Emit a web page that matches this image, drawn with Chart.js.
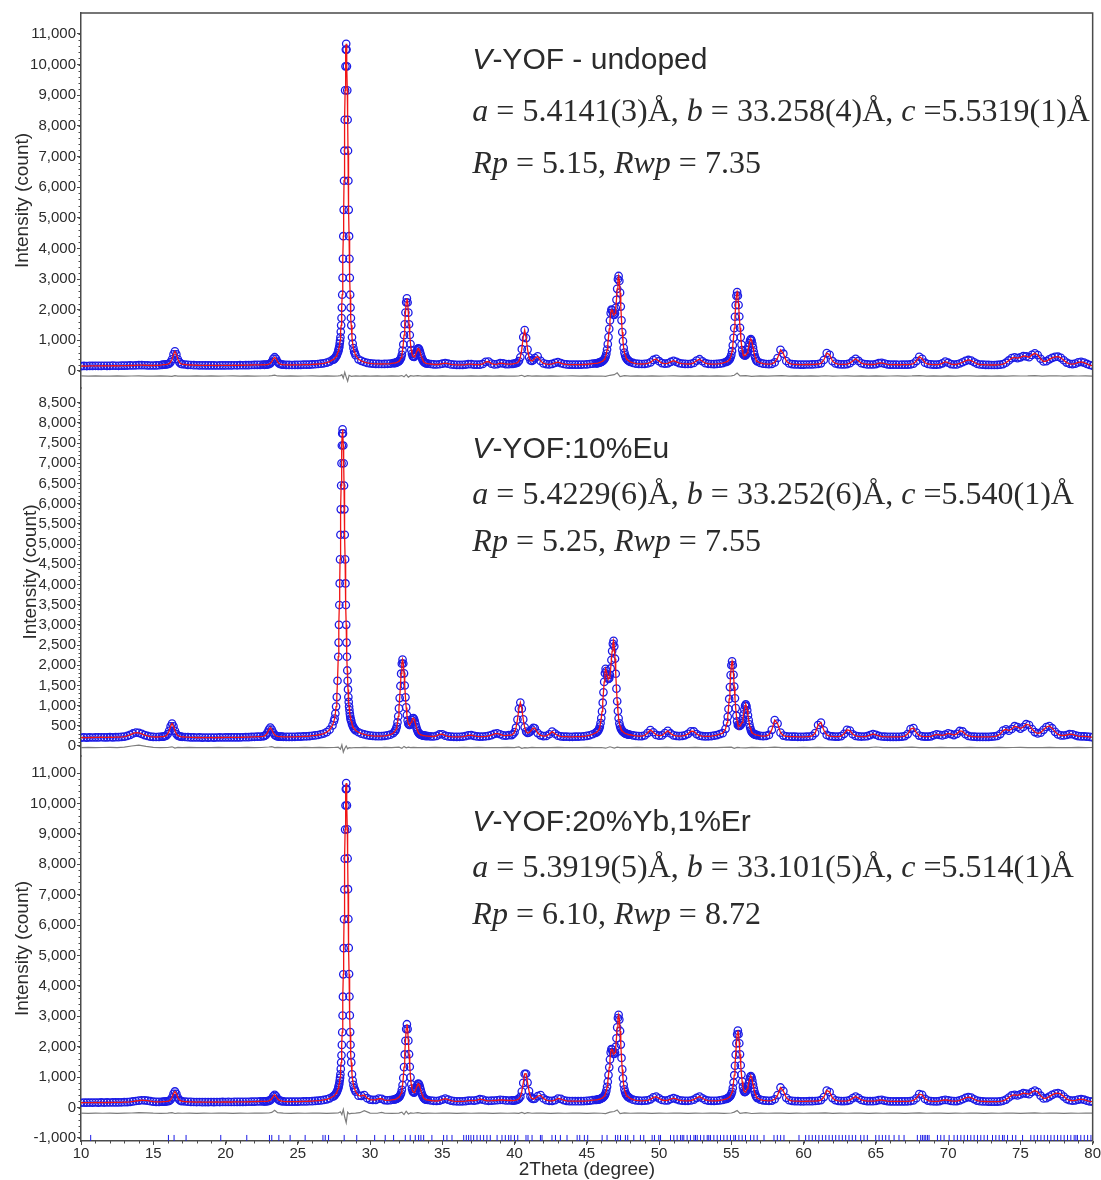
<!DOCTYPE html>
<html>
<head>
<meta charset="utf-8">
<title>V-YOF Rietveld refinement</title>
<script src="https://cdn.jsdelivr.net/npm/chart.js@4.4.1/dist/chart.umd.min.js"></script>
<style>
  html, body { margin: 0; padding: 0; background: #fff; }
  #xrd { display: block; }
</style>
</head>
<body>
<canvas id="xrd" width="1101" height="1180"></canvas>
<script>
/* Rietveld fits of three V-YOF powders: observed points, calculated profile,
   difference curve (shifted below zero) and Bragg positions.
   All intensities. */

// 2Theta grid shared by the three observed patterns (denser on the strong peaks)
const twoTheta = [
  10.0, 10.2, 10.4, 10.6, 10.8, 11.0, 11.2, 11.4, 11.6, 11.8, 12.0, 12.2, 12.4, 12.6, 12.8, 13.0, 13.2, 13.4, 13.6, 13.8, 14.0, 14.2, 14.4, 14.6, 14.8, 15.0, 15.2, 15.4, 15.6,
  15.7, 15.8, 15.9, 16.0, 16.1, 16.2, 16.3, 16.4, 16.5, 16.6, 16.7, 16.8, 16.9, 17.0,
  17.2, 17.4, 17.6, 17.8, 18.0, 18.2, 18.4, 18.6, 18.8, 19.0, 19.2, 19.4, 19.6, 19.8, 20.0, 20.2, 20.4, 20.6, 20.8, 21.0, 21.2, 21.4, 21.6, 21.8, 22.0, 22.2, 22.4, 22.6,
  22.7, 22.8, 22.9, 23.0, 23.1, 23.2, 23.3, 23.4, 23.5, 23.6, 23.7, 23.8, 23.9,
  24.0, 24.2, 24.4, 24.6, 24.8, 25.0, 25.2, 25.4, 25.6, 25.8, 26.0, 26.2, 26.4, 26.6, 26.8, 27.0, 27.2, 27.4,
  27.5, 27.55, 27.6, 27.65, 27.7, 27.75,
  27.8, 27.825, 27.85, 27.875, 27.9, 27.925, 27.95, 27.975, 28.0, 28.025,
  28.05, 28.075, 28.1, 28.125, 28.15, 28.175, 28.2, 28.225, 28.25, 28.275,
  28.3, 28.325, 28.35, 28.375, 28.4, 28.425, 28.45, 28.475, 28.5, 28.525,
  28.55, 28.575, 28.6, 28.625, 28.65, 28.675, 28.7,
  28.75, 28.8, 28.85, 28.9, 28.95, 29.0,
  29.2, 29.4, 29.6, 29.8, 30.0, 30.2, 30.4, 30.6, 30.8, 31.0, 31.2, 31.4, 31.6,
  31.7, 31.75, 31.8, 31.85, 31.9, 31.95, 32.0, 32.05, 32.1, 32.15,
  32.2, 32.25, 32.3, 32.35, 32.4, 32.45, 32.5, 32.55, 32.6, 32.65,
  32.7, 32.75, 32.8, 32.85, 32.9, 32.95, 33.0, 33.05, 33.1, 33.15,
  33.2, 33.25, 33.3, 33.35, 33.4, 33.45, 33.5, 33.55, 33.6, 33.65,
  33.7, 33.75, 33.8, 33.85, 33.9,
  34.0, 34.2, 34.4, 34.6, 34.8, 35.0, 35.2, 35.4, 35.6, 35.8, 36.0, 36.2, 36.4, 36.6, 36.8,
  37.0, 37.2, 37.4, 37.6, 37.8, 38.0, 38.2, 38.4, 38.6, 38.8, 39.0, 39.2, 39.4, 39.6, 39.8,
  39.9, 40.0, 40.1, 40.2, 40.3, 40.4, 40.5, 40.6, 40.7, 40.8, 40.9, 41.0, 41.1, 41.2, 41.3,
  41.4, 41.6, 41.8, 42.0, 42.2, 42.4, 42.6, 42.8, 43.0, 43.2, 43.4, 43.6, 43.8, 44.0, 44.2, 44.4, 44.6, 44.8, 45.0, 45.2, 45.4, 45.6,
  45.7, 45.75, 45.8, 45.85, 45.9, 45.95, 46.0, 46.05, 46.1, 46.15,
  46.2, 46.25, 46.3, 46.35, 46.4, 46.45, 46.5, 46.55, 46.6, 46.65,
  46.7, 46.75, 46.8, 46.85, 46.9, 46.95, 47.0, 47.05, 47.1, 47.15,
  47.2, 47.25, 47.3, 47.35, 47.4, 47.45, 47.5, 47.55, 47.6, 47.65,
  47.7, 47.75, 47.8, 47.85, 47.9,
  48.0, 48.2, 48.4, 48.6, 48.8, 49.0, 49.2, 49.4, 49.6, 49.8,
  50.0, 50.2, 50.4, 50.6, 50.8, 51.0, 51.2, 51.4, 51.6, 51.8,
  52.0, 52.2, 52.4, 52.6, 52.8, 53.0, 53.2, 53.4, 53.6, 53.8,
  54.0, 54.2, 54.4, 54.6,
  54.7, 54.75, 54.8, 54.85, 54.9, 54.95, 55.0, 55.05, 55.1, 55.15,
  55.2, 55.25, 55.3, 55.35, 55.4, 55.45, 55.5, 55.55, 55.6, 55.65,
  55.7, 55.75, 55.8, 55.85, 55.9, 55.95, 56.0, 56.05, 56.1, 56.15,
  56.2, 56.25, 56.3, 56.35, 56.4, 56.45, 56.5, 56.55, 56.6, 56.65,
  56.7, 56.75, 56.8,
  57.0, 57.2, 57.4, 57.6, 57.8, 58.0, 58.2, 58.4, 58.6, 58.8,
  59.0, 59.2, 59.4, 59.6, 59.8, 60.0, 60.2, 60.4, 60.6, 60.8,
  61.0, 61.2, 61.4, 61.6, 61.8, 62.0, 62.2, 62.4, 62.6, 62.8,
  63.0, 63.2, 63.4, 63.6, 63.8, 64.0, 64.2, 64.4, 64.6, 64.8,
  65.0, 65.2, 65.4, 65.6, 65.8, 66.0, 66.2, 66.4, 66.6, 66.8,
  67.0, 67.2, 67.4, 67.6, 67.8, 68.0, 68.2, 68.4, 68.6, 68.8,
  69.0, 69.2, 69.4, 69.6, 69.8, 70.0, 70.2, 70.4, 70.6, 70.8,
  71.0, 71.2, 71.4, 71.6, 71.8, 72.0, 72.2, 72.4, 72.6, 72.8,
  73.0, 73.2, 73.4, 73.6, 73.8, 74.0, 74.2, 74.4, 74.6, 74.8,
  75.0, 75.2, 75.4, 75.6, 75.8, 76.0, 76.2, 76.4, 76.6, 76.8,
  77.0, 77.2, 77.4, 77.6, 77.8, 78.0, 78.2, 78.4, 78.6, 78.8,
  79.0, 79.2, 79.4, 79.6, 79.8, 80.0
];

// observed counts, undoped sample (top panel)
const obsUndoped = [
  160, 165, 162, 168, 165, 170, 166, 168, 172, 168, 170, 175, 172, 170, 174, 176, 178, 182, 180, 186, 190, 192, 188, 184, 180, 180, 182, 188, 198,
  207, 211, 215, 224, 240, 290, 384, 542, 645, 542, 384, 290, 240, 224,
  212, 200, 195, 190, 188, 185, 186, 183, 185, 182, 184, 180, 182, 185, 183, 186, 184, 188, 186, 190, 188, 192, 190, 195, 198, 202, 200, 205,
  203, 206, 211, 221, 246, 302, 395, 450, 395, 302, 246, 221, 211,
  205, 200, 198, 196, 198, 200, 202, 205, 206, 210, 214, 220, 228, 238, 252, 275, 308, 362,
  380, 410, 440, 475, 515, 580,
  640, 695, 750, 800, 895, 990, 1100, 1280, 1490, 1730,
  2070, 2490, 3040, 3660, 4400, 5260, 6210, 7190, 8200, 9160,
  9945, 10490, 10680, 10490, 9945, 9160, 8200, 7190, 6210, 5260,
  4400, 3660, 3040, 2490, 2070, 1730, 1490,
  1100, 895, 750, 640, 580, 515,
  380, 331, 293, 266, 251, 240, 233, 230, 228, 230, 235, 242, 255,
  257, 265, 273, 282, 295, 308, 324, 342, 390, 436,
  530, 665, 867, 1170, 1525, 1910, 2240, 2370, 2235, 1905,
  1525, 1175, 880, 685, 563, 487, 467, 458, 491, 540,
  603, 667, 720, 737, 704, 636, 555, 473, 406, 353,
  312, 285, 268, 255, 249,
  240, 228, 218, 212, 220, 238, 255, 238, 215, 205, 200, 198, 200, 208, 222,
  225, 210, 205, 208, 230, 300, 310, 240, 215, 225, 255, 250, 225, 222, 228,
  235, 245, 257, 275, 325, 445, 712, 1106, 1335, 1073, 699, 449, 346, 326, 360,
  420, 476, 330, 248, 225, 218, 230, 265, 290, 255, 228, 215, 210, 208, 206, 205, 208, 212, 218, 228, 238, 248,
  252, 256, 263, 270, 277, 287, 300, 313, 328, 353,
  375, 419, 475, 567, 698, 877, 1106, 1374, 1648, 1890,
  2004, 1985, 1900, 1840, 1830, 1880, 2060, 2322, 2682, 2994,
  3102, 2940, 2558, 2102, 1654, 1271, 974, 754, 602, 513,
  444, 411, 372, 351, 332,
  298, 262, 242, 232, 228, 232, 245, 280, 360, 395,
  320, 258, 240, 250, 295, 335, 300, 255, 240, 232,
  228, 235, 262, 340, 385, 318, 255, 235, 228, 226,
  230, 240, 258, 290,
  310, 324, 341, 371, 398, 453, 527, 652, 837, 1082,
  1398, 1770, 2147, 2454, 2577, 2457, 2153, 1779, 1412, 1101,
  862, 683, 569, 530, 505, 505, 520, 560, 589, 680,
  791, 910, 1005, 1040, 994, 889, 761, 634, 526, 442,
  380, 335, 309,
  265, 240, 228, 225, 232, 280, 425, 690, 565, 325,
  245, 225, 215, 212, 210, 210, 212, 212, 215, 220,
  228, 250, 360, 585, 530, 320, 245, 225, 215, 215,
  225, 253, 328, 400, 328, 253, 228, 215, 212, 212,
  225, 255, 265, 240, 218, 210, 205, 205, 204, 205,
  206, 210, 218, 240, 324, 464, 399, 270, 228, 215,
  210, 210, 218, 250, 305, 270, 225, 212, 215, 245,
  285, 330, 360, 340, 285, 235, 212, 205, 200, 198,
  195, 195, 198, 205, 225, 270, 345, 420, 445, 420,
  445, 490, 475, 450, 525, 577, 520, 400, 310, 320,
  380, 430, 460, 467, 430, 350, 275, 235, 225, 240,
  280, 300, 275, 230, 195, 170
];

// observed counts, 10% Eu sample (middle panel)
const obsEu = [
  205, 212, 208, 215, 210, 214, 212, 216, 212, 215, 218, 215, 218, 220, 225, 232, 248, 275, 310, 332, 325, 300, 270, 248, 232, 225, 222, 225, 232,
  232, 241, 256, 297, 375, 487, 555, 487, 375, 297, 256, 241, 232, 228,
  222, 218, 214, 212, 210, 212, 208, 210, 207, 210, 208, 210, 212, 210, 213, 211, 214, 212, 215, 213, 216, 218, 220, 224, 228, 230, 232, 240,
  248, 276, 330, 408, 455, 408, 330, 276, 248, 238, 232, 230, 230,
  228, 226, 225, 226, 228, 230, 232, 236, 240, 246, 254, 262, 272, 290, 308, 342, 403, 510,
  615, 680, 805, 975, 1210, 1615,
  2210, 2560, 3000, 3490, 4025, 4620, 5230, 5860, 6450, 7000,
  7440, 7740, 7840, 7740, 7440, 7000, 6450, 5860, 5230, 4620,
  4025, 3490, 3000, 2560, 2210, 1870, 1615, 1400, 1210, 1090,
  975, 890, 805, 740, 680, 645, 615,
  545, 500, 460, 430, 410, 385,
  340, 305, 285, 268, 258, 250, 246, 244, 246, 252, 262, 280, 315,
  359, 380, 425, 483, 585, 732, 931, 1186, 1486, 1790,
  2038, 2139, 2042, 1798, 1498, 1204, 955, 766, 632, 551,
  525, 522, 555, 593, 641, 683, 692, 662, 604, 534,
  466, 408, 363, 328, 306, 291, 280, 273, 266, 262,
  258, 255, 252, 249, 247,
  245, 238, 235, 250, 285, 290, 255, 238, 232, 228, 226, 228, 232, 242, 262,
  270, 250, 236, 232, 234, 240, 250, 268, 298, 314, 290, 262, 258, 268, 270,
  297, 343, 453, 653, 921, 1075, 923, 658, 461, 356, 323, 333, 362, 408, 448,
  439, 320, 263, 245, 250, 290, 355, 305, 255, 238, 232, 230, 228, 228, 230, 232, 235, 240, 250, 265, 290, 325,
  344, 367, 388, 426, 479, 567, 691, 856, 1072, 1328,
  1587, 1801, 1910, 1855, 1760, 1690, 1660, 1680, 1760, 1920,
  2130, 2350, 2530, 2606, 2468, 2161, 1788, 1420, 1107, 866,
  686, 561, 487, 432, 404, 373, 355, 340, 325, 313,
  306, 300, 293, 286, 282,
  278, 262, 250, 244, 245, 260, 320, 396, 340, 275,
  255, 262, 320, 375, 310, 262, 248, 245, 250, 265,
  300, 365, 360, 295, 255, 242, 238, 240, 245, 255,
  270, 292, 318, 425,
  578, 723, 916, 1165, 1458, 1756, 1999, 2097, 2002, 1763,
  1469, 1181, 937, 750, 610, 522, 510, 495, 500, 520,
  560, 582, 673, 784, 900, 994, 1029, 985, 885, 761,
  640, 536, 455, 394, 353, 327, 309, 299, 288, 282,
  276, 271, 267,
  250, 245, 250, 275, 400, 640, 555, 330, 258, 240,
  235, 232, 230, 228, 228, 228, 230, 235, 248, 320,
  520, 580, 390, 275, 245, 236, 232, 232, 245, 300,
  400, 380, 290, 250, 238, 234, 235, 242, 268, 297,
  278, 248, 235, 230, 228, 226, 225, 226, 228, 232,
  245, 295, 420, 445, 330, 258, 238, 232, 230, 238,
  265, 288, 275, 262, 280, 312, 295, 270, 300, 372,
  360, 290, 248, 235, 230, 226, 225, 224, 224, 226,
  230, 236, 250, 295, 380, 413, 380, 420, 490, 470,
  430, 470, 540, 520, 420, 345, 310, 330, 400, 470,
  495, 440, 350, 285, 262, 260, 272, 295, 290, 265,
  245, 238, 236, 232, 225, 215
];

// observed counts, 20% Yb / 1% Er sample (bottom panel)
const obsYbEr = [
  158, 162, 160, 165, 162, 166, 163, 167, 165, 168, 166, 170, 168, 171, 173, 176, 180, 188, 200, 215, 228, 240, 238, 225, 208, 195, 188, 186, 190,
  194, 197, 201, 207, 220, 257, 330, 451, 530, 451, 330, 257, 220, 207,
  198, 190, 186, 183, 181, 182, 179, 181, 180, 182, 180, 183, 181, 184, 182, 185, 183, 186, 185, 188, 186, 189, 190, 192, 195, 198, 200, 204,
  203, 205, 210, 218, 242, 290, 368, 420, 368, 290, 242, 218, 210,
  200, 196, 194, 193, 195, 197, 199, 201, 203, 207, 211, 217, 225, 235, 249, 270, 302, 355,
  375, 405, 436, 470, 510, 572,
  632, 688, 742, 795, 888, 982, 1092, 1270, 1480, 1720,
  2060, 2475, 3025, 3645, 4380, 5240, 6190, 7170, 8180, 9140,
  9930, 10470, 10670, 10480, 9935, 9150, 8190, 7180, 6200, 5250,
  4390, 3650, 3030, 2480, 2065, 1725, 1485,
  1095, 890, 745, 640, 585, 525,
  390, 385, 410, 308, 262, 250, 254, 292, 290, 246, 238, 245, 258,
  264, 273, 283, 294, 309, 325, 344, 365, 422, 476,
  582, 740, 975, 1329, 1746, 2195, 2579, 2740, 2579, 2199,
  1754, 1342, 995, 767, 622, 533, 508, 492, 526, 578,
  645, 713, 771, 788, 753, 678, 589, 502, 428, 370,
  327, 296, 278, 264, 256,
  248, 232, 222, 216, 228, 262, 292, 262, 228, 212, 206, 204, 206, 212, 225,
  232, 228, 245, 275, 260, 232, 222, 225, 232, 240, 252, 248, 235, 232, 235,
  230, 235, 245, 259, 288, 354, 525, 810, 1105, 1110, 820, 540, 361, 301, 282,
  289, 373, 407, 300, 242, 222, 220, 240, 298, 285, 240, 220, 212, 210, 208, 208, 210, 214, 220, 230, 245, 250,
  255, 259, 266, 272, 279, 288, 301, 313, 328, 351,
  373, 415, 468, 555, 680, 849, 1067, 1322, 1581, 1812,
  1921, 1905, 1820, 1770, 1760, 1810, 2000, 2278, 2635, 2944,
  3051, 2892, 2518, 2070, 1631, 1255, 964, 748, 598, 511,
  443, 412, 373, 353, 334,
  300, 258, 238, 226, 222, 226, 238, 270, 335, 360,
  300, 248, 232, 238, 280, 308, 278, 240, 228, 222,
  222, 232, 258, 320, 360, 305, 250, 230, 222, 220,
  224, 235, 252, 275,
  293, 307, 322, 338, 369, 394, 448, 520, 643, 824,
  1064, 1373, 1737, 2107, 2407, 2529, 2411, 2114, 1749, 1391,
  1087, 854, 684, 570, 517, 510, 530, 570, 625, 687,
  795, 907, 1000, 1035, 988, 884, 757, 632, 526, 442,
  380, 337, 311,
  262, 238, 226, 222, 228, 272, 410, 660, 545, 318,
  240, 220, 212, 208, 206, 206, 207, 208, 211, 215,
  224, 245, 345, 560, 510, 312, 240, 220, 212, 212,
  220, 245, 310, 362, 310, 248, 224, 212, 208, 208,
  218, 245, 252, 230, 212, 205, 202, 200, 200, 202,
  203, 206, 214, 232, 305, 440, 420, 285, 228, 212,
  206, 205, 212, 240, 252, 240, 218, 210, 212, 235,
  272, 315, 342, 325, 272, 228, 208, 202, 198, 196,
  194, 194, 197, 204, 222, 262, 330, 398, 418, 398,
  430, 472, 460, 440, 510, 555, 510, 390, 300, 308,
  360, 418, 462, 474, 440, 360, 280, 240, 226, 236,
  262, 276, 258, 225, 205, 197
];

// difference curves (obs - calc), plotted with the offset used in the figure
const diffTheta = [
  10, 10.5, 11, 11.5, 12, 12.5, 13, 13.5, 14, 14.5,
  15, 15.5, 16, 16.3, 16.5, 16.7, 17, 17.5, 18, 18.5,
  19, 19.5, 20, 20.5, 21, 21.5, 22, 22.5, 23, 23.2,
  23.4, 23.6, 24, 24.5, 25, 25.5, 26, 26.5, 27, 27.5,
  27.8, 27.95, 28.05, 28.15, 28.25, 28.35, 28.45, 28.55, 28.7, 29,
  29.3, 29.6, 30, 30.5, 30.8, 31, 31.5, 32, 32.2, 32.35,
  32.5, 32.65, 32.8, 33, 33.3, 33.6, 34, 34.5, 35, 35.5,
  36, 36.5, 37, 37.5, 38, 38.5, 39, 39.5, 40, 40.3,
  40.5, 40.7, 40.9, 41.2, 41.5, 42, 42.5, 43, 43.5, 44,
  44.5, 45, 45.5, 46, 46.3, 46.6, 46.9, 47.1, 47.3, 47.6,
  48, 48.5, 49, 49.5, 50, 50.5, 51, 51.5, 52, 52.5,
  53, 53.5, 54, 54.5, 55, 55.2, 55.4, 55.6, 56, 56.4,
  57, 57.5, 58, 58.5, 59, 59.5, 60, 60.5, 61, 61.5,
  62, 62.5, 63, 63.5, 64, 64.5, 65, 65.5, 66, 66.5,
  67, 67.5, 68, 68.5, 69, 69.5, 70, 70.5, 71, 71.5,
  72, 72.5, 73, 73.5, 74, 74.5, 75, 75.5, 76, 76.5,
  77, 77.5, 78, 78.5, 79, 79.5, 80
];
const diffUndoped = [
  -160, -168, -162, -170, -165, -160, -168, -163, -158, -166,
  -170, -162, -165, -175, -150, -170, -164, -168, -160, -166,
  -162, -170, -164, -158, -166, -162, -168, -164, -160, -150,
  -135, -162, -166, -160, -168, -163, -158, -166, -162, -168,
  -160, -150, -120, -230, -40, -200, -330, -140, -175, -160,
  -166, -162, -168, -160, -165, -170, -162, -166, -150, -190,
  -120, -200, -155, -168, -150, -170, -162, -168, -160, -166,
  -164, -170, -160, -166, -158, -168, -162, -166, -170, -160,
  -140, -185, -150, -168, -160, -166, -162, -170, -164, -160,
  -168, -162, -166, -164, -175, -140, -120, -60, -180, -150,
  -168, -160, -166, -158, -170, -164, -160, -168, -162, -166,
  -158, -168, -162, -166, -160, -140, -70, -160, -150, -175,
  -162, -168, -160, -150, -166, -162, -168, -160, -166, -155,
  -170, -164, -160, -168, -162, -166, -160, -168, -164, -160,
  -166, -162, -150, -168, -162, -166, -160, -168, -162, -158,
  -166, -162, -168, -160, -166, -158, -164, -160, -150, -168,
  -162, -155, -166, -160, -164, -162, -166
];
const diffEu = [
  -40, -35, -42, -38, -36, -42, -30, 0, 20, -10,
  -35, -40, -38, -20, -50, -36, -40, -35, -42, -38,
  -40, -35, -42, -37, -40, -36, -42, -38, -25, -15,
  -40, -36, -40, -38, -42, -36, -40, -35, -42, -38,
  -30, -80, 30, -150, -60, 0, -70, -40, -45, -38,
  -42, -36, -40, -38, -42, -36, -40, -30, -60, -10,
  -45, -30, -42, -36, -40, -38, -42, -36, -40, -38,
  -42, -36, -40, -35, -42, -38, -40, -36, -42, -25,
  -60, -40, -45, -36, -40, -38, -42, -36, -40, -38,
  -42, -36, -40, -38, -55, -20, -50, -30, -42, -38,
  -40, -36, -42, -38, -40, -36, -42, -38, -40, -36,
  -42, -38, -40, -36, -30, -60, -35, -40, -45, -36,
  -40, -38, -30, -42, -38, -40, -36, -42, -35, -40,
  -38, -42, -36, -40, -38, -42, -25, -40, -38, -42,
  -36, -30, -40, -38, -42, -36, -40, -38, -42, -36,
  -40, -38, -42, -36, -40, -38, -35, -42, -38, -40,
  -36, -42, -38, -40, -36, -42, -38
];
const diffYbEr = [
  -185, -190, -182, -188, -184, -190, -186, -180, -170, -175,
  -186, -190, -185, -170, -195, -182, -188, -184, -190, -185,
  -188, -182, -186, -190, -184, -188, -182, -186, -180, -160,
  -90, -170, -185, -190, -184, -188, -182, -186, -190, -184,
  -180, -140, -230, -60, -320, -500, -150, -210, -190, -185,
  -170, -100, -185, -188, -160, -186, -190, -184, -150, -230,
  -120, -210, -175, -188, -170, -190, -184, -188, -182, -186,
  -190, -184, -188, -182, -186, -190, -184, -188, -182, -190,
  -160, -200, -170, -188, -182, -186, -190, -184, -188, -182,
  -186, -190, -184, -188, -200, -150, -130, -80, -200, -175,
  -188, -182, -186, -190, -184, -188, -182, -186, -190, -184,
  -188, -182, -186, -190, -180, -150, -100, -190, -170, -195,
  -184, -188, -182, -186, -190, -184, -188, -182, -186, -178,
  -190, -184, -188, -182, -186, -190, -184, -188, -182, -186,
  -190, -184, -175, -188, -182, -186, -190, -184, -188, -182,
  -186, -190, -184, -188, -182, -186, -190, -184, -176, -188,
  -182, -186, -190, -184, -188, -182, -186
];

// Bragg reflection positions (blue marks along the bottom axis)
const braggPositions = [
  10.67, 16.05, 16.44, 17.27, 19.67, 21.47, 23.04, 23.2, 23.69, 24.47, 25.51, 26.74, 26.9, 27.13, 28.21,
  29.08, 30.32, 31.05, 31.63, 32.44, 32.78, 33.13, 33.36, 33.52, 33.71, 34.28, 35.09, 35.32, 35.67,
  36.48, 36.66, 36.82, 36.98, 37.17, 37.4, 37.63, 37.86, 38.09, 38.32, 38.79, 39.13, 39.36, 39.59, 39.75,
  39.99, 40.22, 40.79, 40.93, 41.21, 41.79, 41.9, 42.59, 42.83, 43.17, 43.63, 44.33, 44.51, 44.83, 45.06,
  46.06, 46.4, 46.98, 47.14, 47.33, 47.67, 47.83, 48.25, 48.71, 48.94, 49.52, 49.68, 49.98, 50.1,
  50.79, 51.02, 51.25, 51.48, 51.6, 51.71, 51.94, 52.17, 52.41, 52.52, 52.64, 52.87, 53.1, 53.33, 53.44,
  53.56, 53.79, 54.02, 54.25, 54.48, 54.71, 54.94, 55.17, 55.29, 55.52, 55.75, 55.98, 56.33, 56.56, 56.79,
  57.26, 57.95, 58.18, 58.41, 58.64, 59.68, 60.14, 60.37, 60.6, 60.83, 61.06, 61.3, 61.53, 61.76, 61.99,
  62.22, 62.45, 62.68, 62.91, 63.14, 63.37, 63.6, 63.95, 64.18, 64.41, 64.99, 65.22, 65.45, 65.68, 65.91,
  66.26, 66.6, 66.95, 67.87, 68.1, 68.22, 68.34, 68.45, 68.57, 68.68, 69.26, 69.49, 69.72, 70.07, 70.41,
  70.64, 70.88, 71.11, 71.34, 71.57, 71.8, 72.03, 72.26, 72.49, 72.72, 73.07, 73.3, 73.53, 73.76, 73.88,
  74.11, 74.45, 74.68, 75.15, 75.72, 75.95, 76.18, 76.42, 76.65, 76.88, 77.11, 77.34, 77.57, 77.8, 78.03,
  78.26, 78.49, 78.72, 78.84, 78.95, 79.18, 79.42, 79.65, 79.88
];

// tick labels
const xTickValues = [10, 15, 20, 25, 30, 35, 40, 45, 50, 55, 60, 65, 70, 75, 80];
const yTicksUndoped = [0, 1000, 2000, 3000, 4000, 5000, 6000, 7000, 8000, 9000, 10000, 11000];
const yTicksEu = [0, 500, 1000, 1500, 2000, 2500, 3000, 3500, 4000, 4500, 5000, 5500, 6000, 6500, 7000, 7500, 8000, 8500];
const yTicksYbEr = [-1000, 0, 1000, 2000, 3000, 4000, 5000, 6000, 7000, 8000, 9000, 10000, 11000];

// sample notes: runs of [text, italic]
const notesUndoped = [
  [['V', true], ['-YOF - undoped', false]],
  [['a', true], [' = 5.4141(3)Å, ', false], ['b', true], [' = 33.258(4)Å, ', false], ['c', true], [' =5.5319(1)Å', false]],
  [['Rp', true], [' = 5.15, ', false], ['Rwp', true], [' = 7.35', false]]
];
const notesEu = [
  [['V', true], ['-YOF:10%Eu', false]],
  [['a', true], [' = 5.4229(6)Å, ', false], ['b', true], [' = 33.252(6)Å, ', false], ['c', true], [' =5.540(1)Å', false]],
  [['Rp', true], [' = 5.25, ', false], ['Rwp', true], [' = 7.55', false]]
];
const notesYbEr = [
  [['V', true], ['-YOF:20%Yb,1%Er', false]],
  [['a', true], [' = 5.3919(5)Å, ', false], ['b', true], [' = 33.101(5)Å, ', false], ['c', true], [' =5.514(1)Å', false]],
  [['Rp', true], [' = 6.10, ', false], ['Rwp', true], [' = 8.72', false]]
];

const sans = "'Liberation Sans', Arial, sans-serif";
const serif = "'Liberation Serif', 'Times New Roman', serif";
const blue = 'rgb(28, 28, 230)';
const red = 'rgb(240, 20, 20)';
const grey = 'rgb(125, 125, 125)';
const axisColor = '#4a4a4a';
const textColor = '#2b2b2b';

// one entry per stacked panel, top to bottom
const panels = [
  { id: 'yUndoped', obs: obsUndoped, diff: diffUndoped, ticks: yTicksUndoped, notes: notesUndoped,
    min: -555, max: 11685, stackWeight: 375, weight: 3, titlePad: 11, minor: 200, noteLevels: [9856, 8176, 6478] },
  { id: 'yEu', obs: obsEu, diff: diffEu, ticks: yTicksEu, notes: notesEu,
    min: -248, max: 8864, stackWeight: 368, weight: 2, titlePad: 19, minor: 100, noteLevels: [7138, 6004, 4840] },
  { id: 'yYbEr', obs: obsYbEr, diff: diffYbEr, ticks: yTicksYbEr, notes: notesYbEr,
    min: -1100, max: 11559, stackWeight: 385, weight: 1, titlePad: 11, minor: 200, noteLevels: [9102, 7596, 6051] }
];
const noteTheta = 37.08;

panels.forEach(p => {
  if (p.obs.length !== twoTheta.length) throw new Error(p.id + ' obs length ' + p.obs.length + ' vs ' + twoTheta.length);
  if (p.diff.length !== diffTheta.length) throw new Error(p.id + ' diff length ' + p.diff.length + ' vs ' + diffTheta.length);
});

function toPoints(xs, ys) {
  return xs.map((x, i) => ({ x: x, y: ys[i] }));
}

const datasets = [];
panels.forEach(p => {
  datasets.push({
    label: 'Calculated', data: toPoints(twoTheta, p.obs), yAxisID: p.id,
    showLine: true, borderColor: red, borderWidth: 1.3, pointRadius: 0, order: 0
  });
  datasets.push({
    label: 'Observed', data: toPoints(twoTheta, p.obs), yAxisID: p.id,
    showLine: false, pointRadius: 3.7, pointBorderWidth: 1.3,
    pointBorderColor: blue, pointBackgroundColor: 'rgba(255,255,255,0)', order: 1
  });
  datasets.push({
    label: 'Difference', data: toPoints(diffTheta, p.diff), yAxisID: p.id,
    showLine: true, borderColor: grey, borderWidth: 1.2, pointRadius: 0, order: 2
  });
});
datasets.push({
  label: 'Bragg positions', data: braggPositions.map(x => ({ x: x, y: -1000 })), yAxisID: 'yYbEr',
  showLine: false, pointStyle: 'line', pointRotation: 90, pointRadius: 3,
  pointBorderColor: blue, pointBorderWidth: 1, order: 3
});

function yAxis(p) {
  return {
    type: 'linear', position: 'left', stack: 'panels', stackWeight: p.stackWeight, weight: p.weight,
    min: p.min, max: p.max,
    afterFit: s => { s.width = 81; },
    afterBuildTicks: s => { s.ticks = p.ticks.map(v => ({ value: v })); },
    border: { color: axisColor, width: 1.5 },
    grid: { drawOnChartArea: false, drawTicks: true, tickLength: 4, color: axisColor },
    ticks: { autoSkip: false, padding: 1, color: textColor, font: { family: sans, size: 15 },
             callback: v => v.toLocaleString('en-US') },
    title: { display: true, text: 'Intensity (count)', color: textColor,
             font: { family: sans, size: 19 }, padding: { top: p.titlePad, bottom: 0 } }
  };
}

const scales = {
  x: {
    type: 'linear', position: 'bottom', min: 10, max: 80,
    afterFit: s => { s.height = 39; },
    afterBuildTicks: s => { s.ticks = xTickValues.map(v => ({ value: v })); },
    border: { color: axisColor, width: 1.5 },
    grid: { drawOnChartArea: false, drawTicks: true, tickLength: 4, color: axisColor },
    ticks: { autoSkip: false, maxRotation: 0, padding: 0, color: textColor, font: { family: sans, size: 15 } },
    title: { display: true, text: '2Theta (degree)', color: textColor,
             font: { family: sans, size: 19 }, padding: { top: 0, bottom: -1 } }
  }
};
panels.forEach(p => { scales[p.id] = yAxis(p); });

// top and right edges of the plot frame
const frame = {
  id: 'frame',
  afterDraw(chart) {
    const { left, top, right, bottom } = chart.chartArea;
    const ctx = chart.ctx;
    ctx.save();
    ctx.strokeStyle = axisColor;
    ctx.lineWidth = 1.5;
    ctx.beginPath();
    ctx.moveTo(left, top);
    ctx.lineTo(right, top);
    ctx.lineTo(right, bottom);
    ctx.stroke();
    ctx.restore();
  }
};

// small minor tick marks between the labelled ones
const minorTicks = {
  id: 'minorTicks',
  afterDraw(chart) {
    const ctx = chart.ctx;
    ctx.save();
    ctx.strokeStyle = axisColor;
    ctx.lineWidth = 1;
    ctx.beginPath();
    panels.forEach(p => {
      const s = chart.scales[p.id];
      const first = p.ticks[0], last = p.ticks[p.ticks.length - 1];
      for (let v = first; v <= last; v += p.minor) {
        const y = Math.round(s.getPixelForValue(v)) + 0.5;
        ctx.moveTo(s.right - 2.5, y);
        ctx.lineTo(s.right, y);
      }
    });
    const xs = chart.scales.x;
    for (let t = 10; t <= 80; t += 1) {
      const x = Math.round(xs.getPixelForValue(t)) + 0.5;
      ctx.moveTo(x, xs.top);
      ctx.lineTo(x, xs.top + 2.5);
    }
    ctx.stroke();
    ctx.restore();
  }
};

// sample name, cell parameters and R factors in each panel
const sampleNotes = {
  id: 'sampleNotes',
  afterDatasetsDraw(chart) {
    const ctx = chart.ctx;
    const x0 = chart.scales.x.getPixelForValue(noteTheta);
    ctx.save();
    ctx.fillStyle = textColor;
    ctx.textBaseline = 'alphabetic';
    ctx.textAlign = 'left';
    panels.forEach(p => {
      const ys = chart.scales[p.id];
      p.notes.forEach((runs, i) => {
        const y = ys.getPixelForValue(p.noteLevels[i]);
        const family = i === 0 ? '30px ' + sans : '32px ' + serif;
        let x = x0;
        runs.forEach(([txt, italic]) => {
          ctx.font = (italic ? 'italic ' : '') + family;
          ctx.fillText(txt, x, y);
          x += ctx.measureText(txt).width;
        });
      });
    });
    ctx.restore();
  }
};

new Chart(document.getElementById('xrd'), {
  type: 'scatter',
  data: { datasets: datasets },
  options: {
    responsive: false,
    animation: false,
    events: [],
    devicePixelRatio: 1,
    layout: { padding: { left: 0, right: 8, top: 13, bottom: 0 } },
    elements: { line: { tension: 0 } },
    scales: scales,
    plugins: {
      legend: { display: false },
      tooltip: { enabled: false }
    }
  },
  plugins: [frame, minorTicks, sampleNotes]
});
</script>
</body>
</html>
